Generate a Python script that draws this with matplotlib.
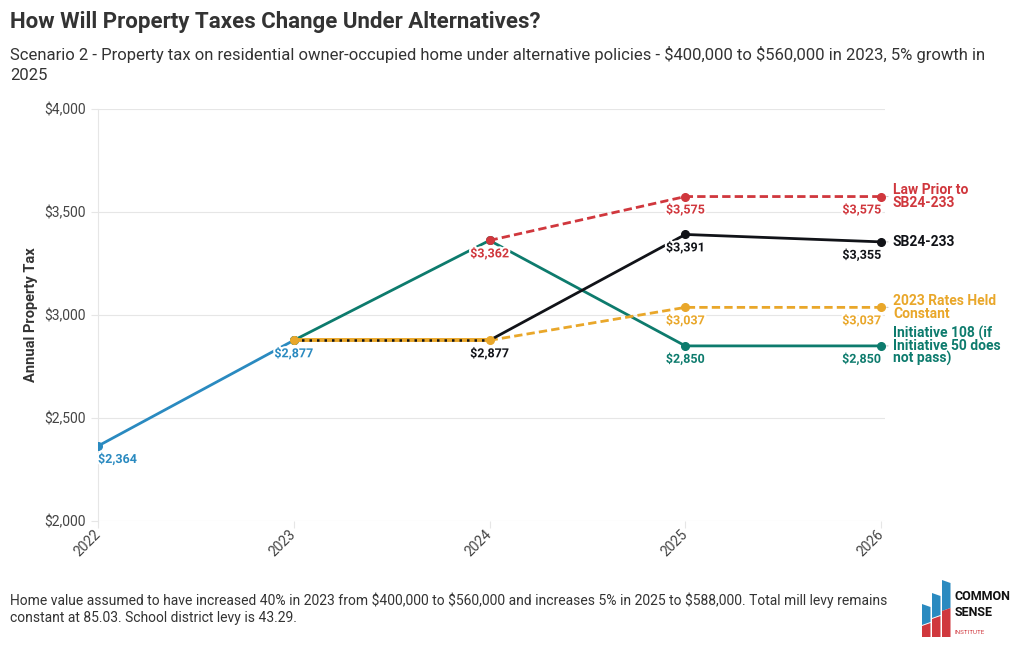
import matplotlib
matplotlib.use("Agg")
import matplotlib.pyplot as plt
import matplotlib.patheffects as pe
from matplotlib.patches import Polygon

plt.rcParams['font.family'] = ['Roboto', 'DejaVu Sans']

# data
hist_years = [2022, 2023]
hist_vals = [2364, 2877]
init108_years = [2023, 2024, 2025, 2026]
init108_vals = [2877, 3362, 2850, 2850]
prior_years = [2024, 2025, 2026]
prior_vals = [3362, 3575, 3575]
sb_years = [2023, 2024, 2025, 2026]
sb_vals = [2877, 2877, 3391, 3355]
const_years = [2023, 2024, 2025, 2026]
const_vals = [2877, 2877, 3037, 3037]

year_ticks = [2022, 2023, 2024, 2025, 2026]
y_ticks = [2000, 2500, 3000, 3500, 4000]

BLUE = '#2a8ac0'
TEAL = '#0d7b6d'
RED = '#d0373d'
BLACK = '#111318'
ORANGE = '#e9a72a'

fig = plt.figure(figsize=(10.2, 6.5), dpi=100)
ax = fig.add_axes([98 / 1020, 1 - 521 / 650, (885 - 98) / 1020, (521 - 109) / 650])

lw = 2.0
ms = 5.5
# historical
ax.plot(hist_years, hist_vals, color=BLUE, lw=lw, marker='o', ms=ms, zorder=3)
# initiative 108
ax.plot(init108_years, init108_vals, color=TEAL, lw=lw, marker='o', ms=ms, zorder=3)
# law prior
ax.plot(prior_years, prior_vals, color=RED, lw=lw, ls=(0, (3, 1.5)), marker='o', ms=ms, zorder=4)
# 2023 rates held constant
ax.plot(const_years[:2], const_vals[:2], color=ORANGE, lw=2.8, zorder=4)
ax.plot(const_years[1:], const_vals[1:], color=ORANGE, lw=lw, ls=(0, (3, 1.5)), zorder=4)
# SB24-233
ax.plot(sb_years[:2], sb_vals[:2], color=BLACK, lw=1.8, ls=(0, (1, 2)), zorder=5)
ax.plot(sb_years[1:], sb_vals[1:], color=BLACK, lw=lw, zorder=5)
ax.plot(sb_years[2:], sb_vals[2:], 'o', color=BLACK, ms=ms, zorder=6)
ax.plot(const_years, const_vals, 'o', color=ORANGE, ms=ms, zorder=6)

halo = [pe.withStroke(linewidth=3, foreground='white')]


def dlabel(x, y, color, ha='center'):
    ax.annotate(f'${y:,.0f}', xy=(x, y), xytext=(0, -5), textcoords='offset points',
                ha=ha, va='top', fontsize=9, fontweight='bold', color=color,
                path_effects=halo, zorder=7, annotation_clip=False)


dlabel(hist_years[0], hist_vals[0], BLUE, ha='left')
dlabel(hist_years[1], hist_vals[1], BLUE)
dlabel(prior_years[0], prior_vals[0], RED)
dlabel(prior_years[1], prior_vals[1], RED)
dlabel(prior_years[2], prior_vals[2], RED, ha='right')
dlabel(sb_years[1], sb_vals[1], BLACK)
dlabel(sb_years[2], sb_vals[2], BLACK)
dlabel(sb_years[3], sb_vals[3], BLACK, ha='right')
dlabel(const_years[2], const_vals[2], ORANGE)
dlabel(const_years[3], const_vals[3], ORANGE, ha='right')
dlabel(init108_years[2], init108_vals[2], TEAL)
dlabel(init108_years[3], init108_vals[3], TEAL, ha='right')

# right-hand series names
end_labels = [
    ('Law Prior to\nSB24-233', prior_vals[-1], RED),
    ('SB24-233', sb_vals[-1], BLACK),
    ('2023 Rates Held\nConstant', const_vals[-1], ORANGE),
    ('Initiative 108 (if\nInitiative 50 does\nnot pass)', init108_vals[-1], TEAL),
]
for text, v, c in end_labels:
    ax.annotate(text, xy=(2026, v), xytext=(8.5, 0), textcoords='offset points',
                ha='left', va='center', fontsize=10, fontweight='bold', color=c,
                linespacing=0.85, annotation_clip=False,
                arrowprops=dict(arrowstyle='-', color='#c8c8c8', lw=0.8,
                                shrinkA=1.5, shrinkB=4))

ax.set_xlim(2022, 2026.02)
ax.set_ylim(2000, 4000)
ax.set_xticks(year_ticks)
ax.set_xticklabels([str(y) for y in year_ticks], rotation=45, ha='right',
                   va='center', rotation_mode='anchor')
ax.set_yticks(y_ticks)
ax.set_yticklabels([f'${v:,.0f}' for v in y_ticks])
ax.tick_params(axis='both', labelsize=10, labelcolor='#444444', color='#e6e6e6',
               length=5, width=0.8)
ax.tick_params(axis='x', pad=3)
ax.grid(axis='y', color='#e6e6e6', lw=0.8)
for s in ['top', 'right', 'bottom']:
    ax.spines[s].set_visible(False)
ax.spines['left'].set_color('#e6e6e6')
ax.set_ylabel('Annual Property Tax', fontsize=10.5, fontweight='bold', color='#333333',
              labelpad=5)
ax.set_axisbelow(True)

fig.text(10 / 1020, 1 - 22 / 650, 'How Will Property Taxes Change Under Alternatives?',
         fontsize=16, fontweight='bold', color='#333333', va='center')
fig.text(10 / 1020, 1 - 64.5 / 650,
         'Scenario 2 - Property tax on residential owner-occupied home under alternative policies'
         r' - \$400,000 to \$560,000 in 2023, 5% growth in' '\n2025',
         fontsize=12, color='#333333', va='center', linespacing=1.35)
fig.text(10 / 1020, 1 - 609 / 650,
         r'Home value assumed to have increased 40% in 2023 from \$400,000 to \$560,000 and increases'
         r' 5% in 2025 to \$588,000. Total mill levy remains' '\nconstant at 85.03. School district levy is 43.29.',
         fontsize=10, color='#333333', va='center', linespacing=1.25)

# logo
lax = fig.add_axes([918 / 1020, 1 - 640 / 650, 97 / 1020, 64 / 650])
lax.set_xlim(918, 1015)
lax.set_ylim(640, 576)
lax.axis('off')
for xs, top, bot in [(922, 604, 622), (932, 593, 615), (942, 580, 608)]:
    lax.add_patch(Polygon([(xs, top), (xs + 8.5, top + 3), (xs + 8.5, bot), (xs, bot + 3)],
                          closed=True, color='#2a8ac0', lw=0))
for xs, top in [(922, 626), (932, 619), (942, 611)]:
    lax.add_patch(Polygon([(xs, top), (xs + 8.5, top - 3), (xs + 8.5, 637), (xs, 637)],
                          closed=True, color='#d0373d', lw=0))
lax.text(955, 597, 'COMMON', fontsize=9, fontweight='bold', color='#111111', va='center',
         ha='left')
lax.text(955, 613, 'SENSE', fontsize=9, fontweight='bold', color='#111111', va='center',
         ha='left')
lax.text(955, 632, 'INSTITUTE', fontsize=4.5, color='#d0373d', va='center', ha='left')

fig.savefig('out.png', dpi=100)
